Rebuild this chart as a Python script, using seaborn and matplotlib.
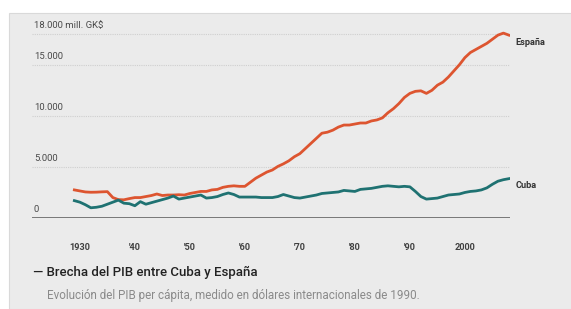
import numpy as np
import pandas as pd
import matplotlib
matplotlib.use("Agg")
import matplotlib.pyplot as plt
import matplotlib.transforms as mtransforms
from matplotlib.patches import Rectangle
import seaborn as sns

years = list(range(1929, 2009))

espana = [2750, 2650, 2550, 2520, 2530, 2560, 2580, 2000, 1800, 1780,
          1900, 2000, 2000, 2100, 2200, 2350, 2200, 2250, 2250, 2280,
          2250, 2400, 2500, 2600, 2600, 2750, 2800, 3000, 3100, 3150,
          3100, 3100, 3500, 3900, 4200, 4500, 4700, 5050, 5300, 5600,
          6000, 6300, 6800, 7300, 7800, 8300, 8400, 8600, 8900, 9100,
          9100, 9200, 9300, 9300, 9500, 9600, 9800, 10300, 10700, 11200,
          11800, 12200, 12400, 12450, 12200, 12500, 13000, 13300, 13800, 14400,
          15000, 15700, 16200, 16500, 16800, 17100, 17500, 17900, 18100, 17900]

cuba = [1700, 1550, 1300, 1000, 1050, 1150, 1350, 1550, 1750, 1450,
        1400, 1200, 1600, 1350, 1500, 1650, 1800, 1950, 2150, 1850,
        1950, 2050, 2150, 2250, 1950, 2000, 2100, 2300, 2450, 2300,
        2050, 2050, 2050, 2050, 2000, 2000, 2000, 2100, 2300, 2150,
        2000, 1950, 2050, 2150, 2250, 2400, 2450, 2500, 2550, 2700,
        2650, 2600, 2800, 2850, 2900, 3000, 3100, 3150, 3100, 3050,
        3100, 3050, 2600, 2100, 1850, 1900, 1950, 2100, 2250, 2300,
        2350, 2500, 2600, 2650, 2750, 2950, 3300, 3600, 3750, 3850]

y_ticks = [0, 5000, 10000, 15000, 18000]
y_labels = ["0", "5.000", "10.000", "15.000", "18.000 mill. GK$"]
x_ticks = [1930, 1940, 1950, 1960, 1970, 1980, 1990, 2000]
x_labels = ["1930", "'40", "'50", "'60", "'70", "'80", "'90", "2000"]

df = pd.DataFrame({
    "year": years * 2,
    "pib": espana + cuba,
    "pais": ["España"] * len(years) + ["Cuba"] * len(years),
})

colores = {"España": "#dd5530", "Cuba": "#1f7272"}

plt.rcParams["font.family"] = ["Roboto", "DejaVu Sans"]

fig = plt.figure(figsize=(5.71, 3.09), dpi=100, facecolor="white")
fig.patches.append(Rectangle((9 / 571, 0), 1, (309 - 13) / 309,
                             transform=fig.transFigure, facecolor="#ebebeb",
                             edgecolor="#d9d9d9", linewidth=0.8, zorder=-1))

ax = fig.add_axes([32 / 571, (309 - 218) / 309, 478 / 571, 190 / 309])
ax.set_facecolor("none")

sns.lineplot(data=df, x="year", y="pib", hue="pais", palette=colores,
             linewidth=2.0, legend=False, ax=ax)

ax.set_xlim(1921.3, 2008.2)
ax.set_ylim(0, 18600)

# rejilla punteada
for v in y_ticks[1:]:
    ax.axhline(v, color="#cfcfcf", linestyle=(0, (1, 1)), linewidth=0.8, zorder=0)
ax.axhline(0, color="#6e6e6e", linewidth=1.3, zorder=1)

trans = mtransforms.blended_transform_factory(ax.transAxes, ax.transData)
for v, lab in zip(y_ticks, y_labels):
    ax.annotate(lab, xy=(0.004, v), xycoords=trans, xytext=(0, 3),
                textcoords="offset points", ha="left", va="bottom",
                fontsize=6.8, color="#4a4a4a")

ax.set_yticks([])
ax.set_xticks(x_ticks)
ax.set_xticklabels(x_labels, fontsize=6.6, fontweight="bold", color="#404040")
ax.tick_params(axis="x", length=0, pad=18)
ax.set_xlabel("")
ax.set_ylabel("")
for s in ax.spines.values():
    s.set_visible(False)

# etiquetas de las series
ax.annotate("España", xy=(years[-1], espana[-1]), xytext=(5, -5),
            textcoords="offset points", ha="left", va="center",
            fontsize=6.6, fontweight="bold", color="#333333")
ax.annotate("Cuba", xy=(years[-1], cuba[-1]), xytext=(5, -5),
            textcoords="offset points", ha="left", va="center",
            fontsize=6.6, fontweight="bold", color="#333333")

fig.text(33 / 571, 1 - 272 / 309, "— Brecha del PIB entre Cuba y España",
         fontsize=9.5, fontweight="medium", color="#222222", va="center", ha="left")
fig.text(47 / 571, 1 - 296 / 309,
         "Evolución del PIB per cápita, medido en dólares internacionales de 1990.",
         fontsize=8.4, color="#8a8a8a", va="center", ha="left")

fig.savefig("out.png", dpi=100, facecolor=fig.get_facecolor())
